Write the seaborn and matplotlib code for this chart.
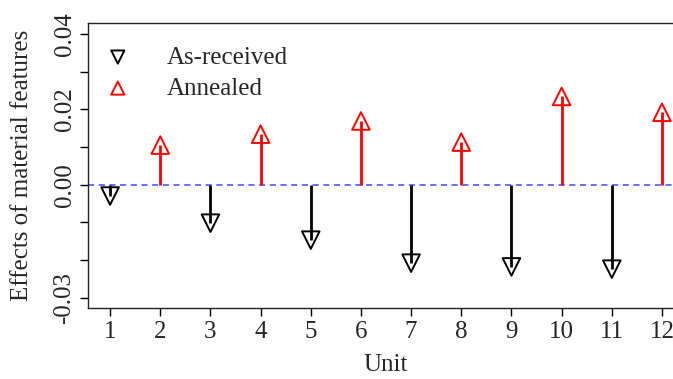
import numpy as np
import matplotlib
matplotlib.use("Agg")
import matplotlib.pyplot as plt
import seaborn as sns

# values
units = list(range(1, 13))
as_received_units = [1, 3, 5, 7, 9, 11]
as_received = [-0.0030, -0.0102, -0.0147, -0.0208, -0.0218, -0.0224]
annealed_units = [2, 4, 6, 8, 10, 12]
annealed = [0.0105, 0.0134, 0.0169, 0.0113, 0.0234, 0.0192]
ytick_vals = [-0.03, -0.02, -0.01, 0.00, 0.01, 0.02, 0.03, 0.04]
ytick_labels = ["-0.03", "", "", "0.00", "", "0.02", "", "0.04"]

sns.set_style("ticks")
plt.rcParams["font.family"] = ["Liberation Serif", "DejaVu Serif"]
plt.rcParams["font.size"] = 18

fig = plt.figure(figsize=(6.73, 3.79), dpi=100)
ax = fig.add_axes([0.1308, 0.1863, 0.8856, 0.7522])

# zero line and stems
ax.axhline(0, color="#4646ff", lw=1.1, ls=(0, (4, 3)), zorder=1)
ax.vlines(as_received_units, 0, as_received, color="black", lw=2, zorder=2)
ax.vlines(annealed_units, 0, annealed, color="red", lw=2, zorder=2)

sns.scatterplot(x=as_received_units, y=as_received, marker="v", s=160,
                color="black", facecolor="none", edgecolor="black",
                linewidth=1.4, ax=ax, label="As-received", zorder=3)
sns.scatterplot(x=annealed_units, y=annealed, marker="^", s=160,
                color="red", facecolor="none", edgecolor="red",
                linewidth=1.4, ax=ax, label="Annealed", zorder=3)

ax.set_xlim(0.56, 12.44)
ax.set_ylim(-0.0328, 0.0428)
ax.set_xticks(units)
ax.set_yticks(ytick_vals)
ax.set_yticklabels(ytick_labels, rotation=90, va="center")
ax.tick_params(length=6, width=1, labelsize=18, pad=3, color="black")

for sp in ax.spines.values():
    sp.set_visible(True)
    sp.set_linewidth(1)
    sp.set_color("#222222")

ax.set_xlabel("Unit", fontsize=18)
ax.set_ylabel("Effects of material features", fontsize=18, va="center")
ax.yaxis.set_label_coords(-0.111, 0.5)
ax.xaxis.set_label_coords(0.5, -0.16)

ax.legend(loc="upper left", bbox_to_anchor=(0.029, 0.92), frameon=False,
          handlelength=1.0, handletextpad=1.46, labelspacing=0.34,
          markerscale=0.75, borderpad=0, borderaxespad=0, fontsize=18)

fig.savefig("out.png", dpi=100)
